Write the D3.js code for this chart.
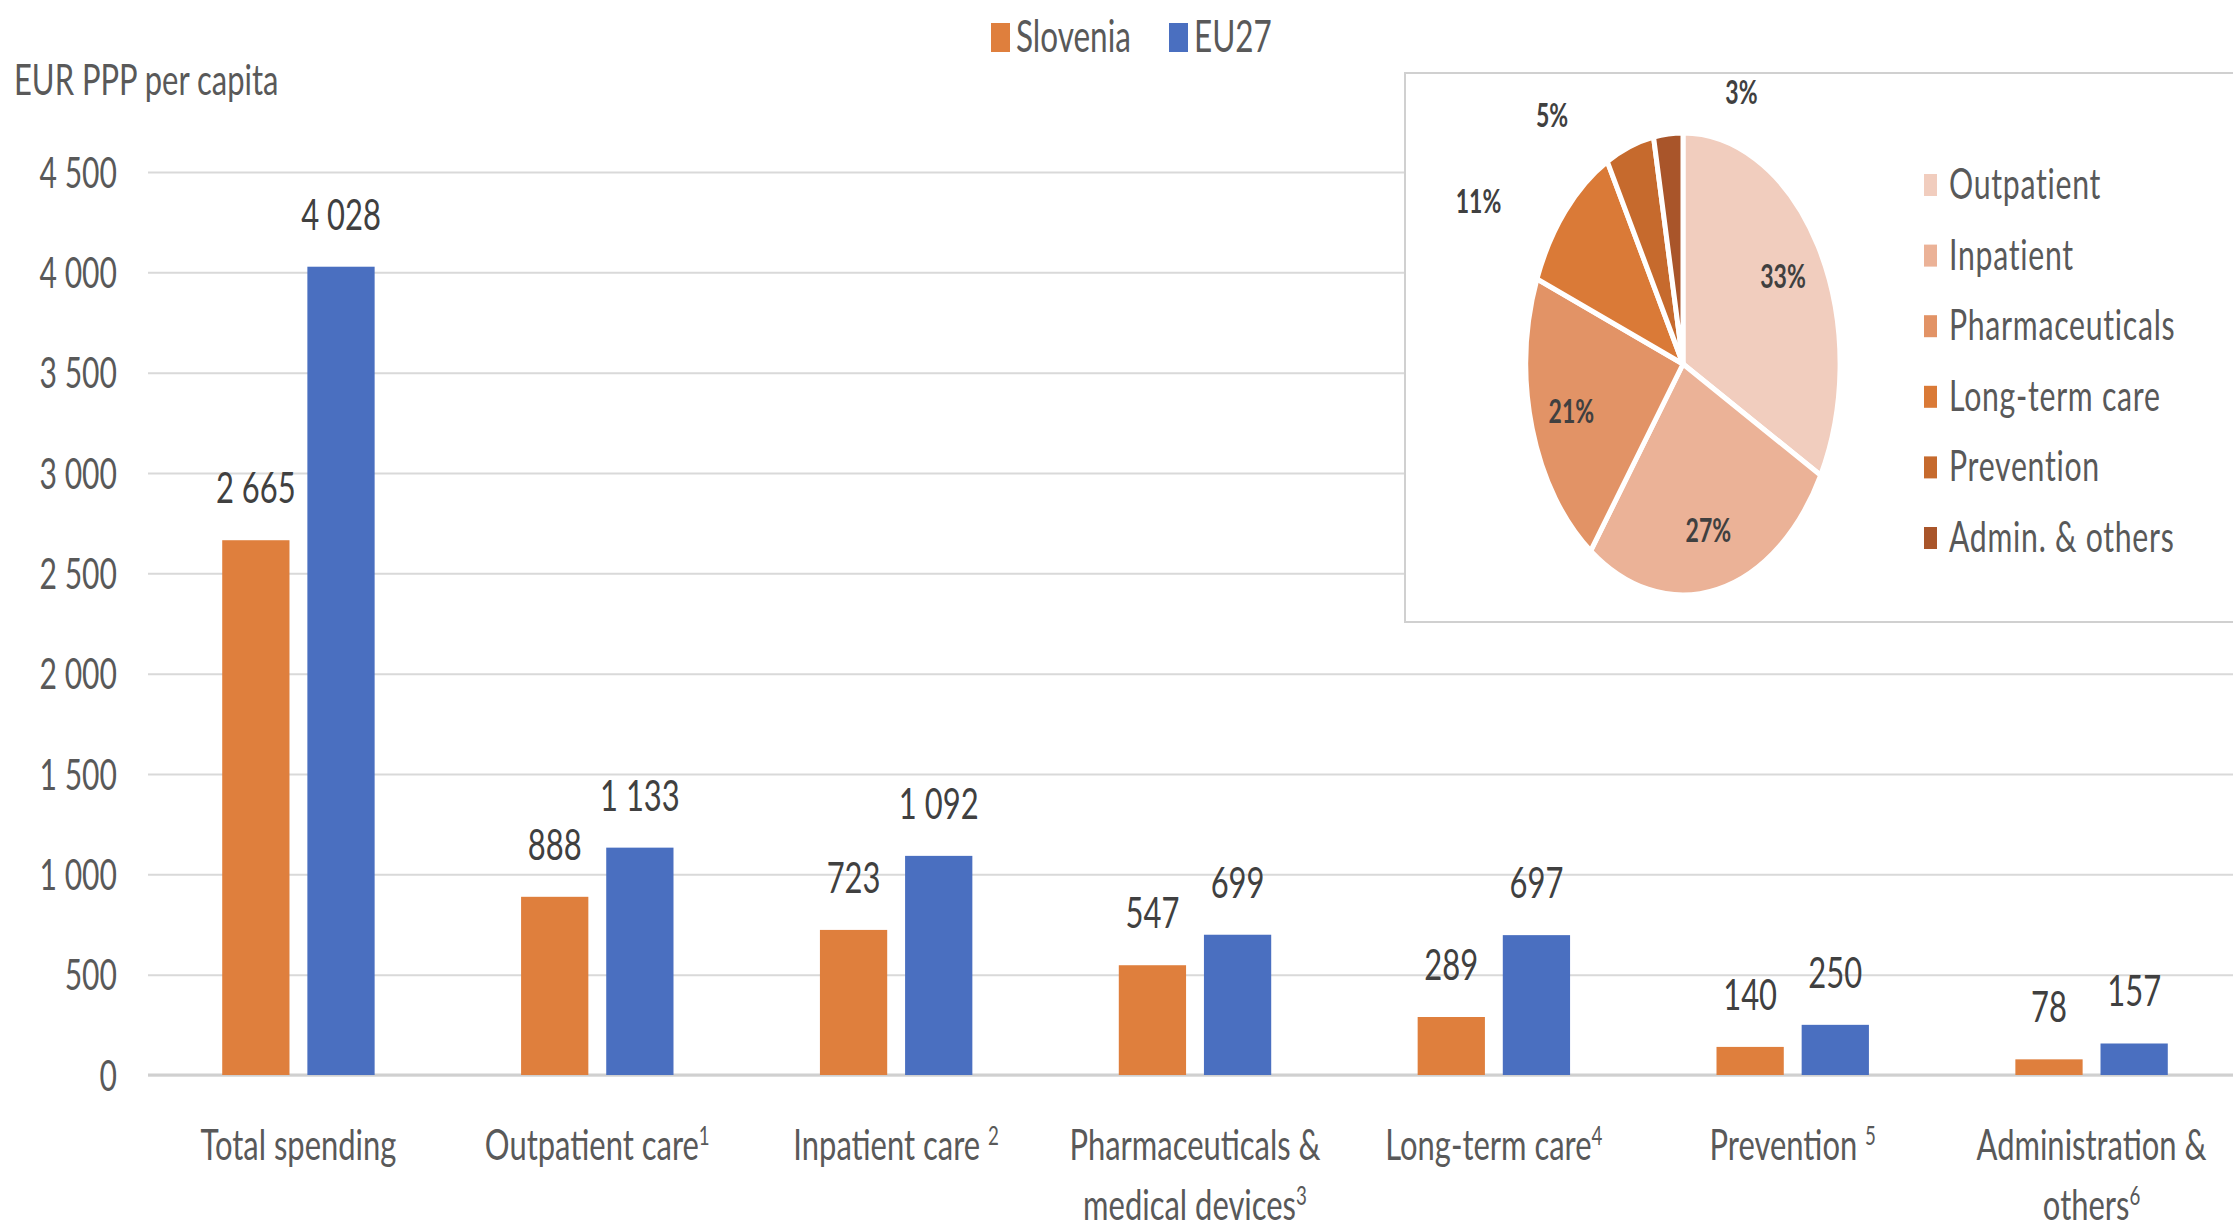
<!DOCTYPE html>
<html>
<head>
<meta charset="utf-8">
<script src="https://cdn.jsdelivr.net/npm/d3@7"></script>
<style>
body { margin: 0; background: #fff; }
svg { display: block; font-family: Lato, "Open Sans", sans-serif; }
</style>
</head>
<body>
<script>
//wrap everything in a self-executing anonymous function to keep it out of global scope
(function(){

//bar chart data
var categories = ["Total spending", "Outpatient care", "Inpatient care", "Pharmaceuticals & medical devices", "Long-term care", "Prevention", "Administration & others"];
var labelLines = [["Total spending"], ["Outpatient care"], ["Inpatient care "], ["Pharmaceuticals &", "medical devices"], ["Long-term care"], ["Prevention "], ["Administration &", "others"]];
var footnotes = ["", "1", "2", "3", "4", "5", "6"];
var seriesNames = ["Slovenia", "EU27"];
var slovenia = [2665, 888, 723, 547, 289, 140, 78];
var eu27 = [4028, 1133, 1092, 699, 697, 250, 157];
var yTicks = [0, 500, 1000, 1500, 2000, 2500, 3000, 3500, 4000, 4500];
var yTitle = "EUR PPP per capita";

//inset pie data (Slovenia, share of spending)
var pieCategories = ["Outpatient", "Inpatient", "Pharmaceuticals", "Long-term care", "Prevention", "Admin. & others"];
var pieShares = [33, 27, 21, 11, 5, 3];

//colours
var seriesColors = ["#DF7F3D", "#4A6FC0"];
var pieColors = ["#F1CDBE", "#EBB297", "#E29366", "#DA7A37", "#C66A2D", "#A9552A"];

//the original picture is squeezed horizontally, text and pie follow that
var SX = 0.72;

var width = 2233,
    height = 1229;

var svg = d3.select("body")
    .append("svg")
    .attr("width", width)
    .attr("height", height);

var fmt = d3.formatLocale({decimal: ",", thousands: " ", grouping: [3], currency: ["", ""]}).format(",d");

//scales
var x0 = d3.scaleBand()
    .domain(categories)
    .range([149, 2241])
    .paddingInner(0.49)
    .paddingOuter(0.245);

var x1 = d3.scaleBand()
    .domain(seriesNames)
    .range([0, x0.bandwidth()])
    .paddingInner(0.21);

var y = d3.scaleLinear()
    .domain([0, 4500])
    .range([1075, 172]);

//squeezed text helper
function squeezed(sel, px, py){
    return sel.attr("transform", "translate(" + px + "," + py + ") scale(" + SX + ",1)");
}

//gridlines and y tick labels
var yAxis = svg.append("g")
    .attr("transform", "translate(148,0)")
    .call(d3.axisLeft(y).tickValues(yTicks).tickSize(-(width - 148)).tickFormat(fmt));
yAxis.select(".domain").remove();
yAxis.selectAll(".tick line")
    .attr("stroke", "#d9d9d9")
    .attr("stroke-width", 2);
yAxis.selectAll(".tick text")
    .attr("x", null)
    .attr("dy", "0.35em")
    .attr("fill", "#595959")
    .style("font-size", "43px")
    .style("font-family", "Lato, sans-serif")
    .attr("transform", "translate(-31,0) scale(0.7,1)");

//baseline
var xAxis = svg.append("g")
    .attr("transform", "translate(0," + y(0) + ")")
    .call(d3.axisBottom(x0).tickSize(0).tickFormat(""));
xAxis.select(".domain")
    .attr("stroke", "#d0d0d0")
    .attr("stroke-width", 3)
    .attr("d", "M148,0H" + width);

//y axis title
squeezed(svg.append("text"), 14, 95)
    .attr("fill", "#595959")
    .style("font-size", "43px")
    .text(yTitle);

//bars
var rows = categories.map(function(c, i){
    return {cat: c, values: [slovenia[i], eu27[i]]};
});

var groups = svg.selectAll(".group")
    .data(rows)
    .enter()
    .append("g")
    .attr("class", "group")
    .attr("transform", function(d){ return "translate(" + x0(d.cat) + ",0)"; });

groups.selectAll("rect")
    .data(function(d){ return d.values.map(function(v, j){ return {s: seriesNames[j], v: v, j: j}; }); })
    .enter()
    .append("rect")
    .attr("x", function(d){ return x1(d.s); })
    .attr("y", function(d){ return y(d.v); })
    .attr("width", x1.bandwidth())
    .attr("height", function(d){ return y(0) - y(d.v); })
    .attr("fill", function(d){ return seriesColors[d.j]; });

//value labels
groups.selectAll(".val")
    .data(function(d){ return d.values.map(function(v, j){ return {s: seriesNames[j], v: v}; }); })
    .enter()
    .append("text")
    .attr("class", "val")
    .attr("text-anchor", "middle")
    .attr("fill", "#404040")
    .style("font-size", "43px")
    .each(function(d){
        squeezed(d3.select(this), x1(d.s) + x1.bandwidth() / 2, y(d.v) - 37);
    })
    .text(function(d){ return fmt(d.v); });

//category labels with footnote marks
categories.forEach(function(c, i){
    var cx = x0(c) + x0.bandwidth() / 2;
    labelLines[i].forEach(function(line, k){
        var t = squeezed(svg.append("text"), cx, 1160 + k * 60)
            .attr("text-anchor", "middle")
            .attr("fill", "#595959")
            .style("font-size", "43px");
        t.append("tspan").text(line);
        if (k == labelLines[i].length - 1 && footnotes[i] != ""){
            t.append("tspan")
                .attr("dy", -15)
                .style("font-size", "26px")
                .text(footnotes[i]);
        };
    });
});

//legend
var legend = svg.selectAll(".legend")
    .data(seriesNames)
    .enter()
    .append("g")
    .attr("class", "legend")
    .attr("transform", function(d, i){ return "translate(" + (991 + i * 178) + ",0)"; });
legend.append("rect")
    .attr("x", 0)
    .attr("y", 23)
    .attr("width", 19)
    .attr("height", 29)
    .attr("fill", function(d, i){ return seriesColors[i]; });
legend.append("text")
    .attr("fill", "#595959")
    .style("font-size", "45px")
    .attr("transform", "translate(25,52) scale(0.7,1)")
    .text(function(d){ return d; });

//inset box
svg.append("rect")
    .attr("x", 1405)
    .attr("y", 73)
    .attr("width", 900)
    .attr("height", 549)
    .attr("fill", "#fff")
    .attr("stroke", "#d0d0d0")
    .attr("stroke-width", 2);

//pie
var pcx = 1683, pcy = 364, pr = 231, psx = 0.68;
var pieData = d3.pie().sort(null).value(function(d){ return d; })(pieShares);
var arc = d3.arc().innerRadius(0).outerRadius(pr);

svg.append("g")
    .attr("transform", "translate(" + pcx + "," + pcy + ") scale(" + psx + ",1)")
    .selectAll("path")
    .data(pieData)
    .enter()
    .append("path")
    .attr("d", arc)
    .attr("fill", function(d, i){ return pieColors[i]; })
    .attr("stroke", "#fff")
    .attr("stroke-width", 5)
    .attr("vector-effect", "non-scaling-stroke");

//pie labels: inside for big slices, best-fit outside for small ones [angle shift in degrees, radius factor]
var outsideFit = {3: [-13, 1.48], 4: [-18, 1.36], 5: [23, 1.23]};
pieData.forEach(function(d, i){
    var a = (d.startAngle + d.endAngle) / 2,
        rf = 0.74;
    if (outsideFit[i]){
        a += outsideFit[i][0] * Math.PI / 180;
        rf = outsideFit[i][1];
    };
    var lx = pcx + psx * pr * rf * Math.sin(a),
        ly = pcy - pr * rf * Math.cos(a);
    squeezed(svg.append("text"), lx, ly)
        .attr("text-anchor", "middle")
        .attr("dy", "0.35em")
        .attr("fill", "#404040")
        .style("font-size", "32px")
        .style("font-weight", "bold")
        .text(pieShares[i] + "%");
});

//pie legend
var pieLegend = svg.selectAll(".pieLegend")
    .data(pieCategories)
    .enter()
    .append("g")
    .attr("class", "pieLegend")
    .attr("transform", function(d, i){ return "translate(1924," + (185 + i * 70.6) + ")"; });
pieLegend.append("rect")
    .attr("x", 0)
    .attr("y", -11)
    .attr("width", 13)
    .attr("height", 22)
    .attr("fill", function(d, i){ return pieColors[i]; });
pieLegend.append("text")
    .attr("fill", "#595959")
    .style("font-size", "42px")
    .style("letter-spacing", "1px")
    .attr("transform", "translate(25,14) scale(" + SX + ",1)")
    .text(function(d){ return d; });

})();
</script>
</body>
</html>
